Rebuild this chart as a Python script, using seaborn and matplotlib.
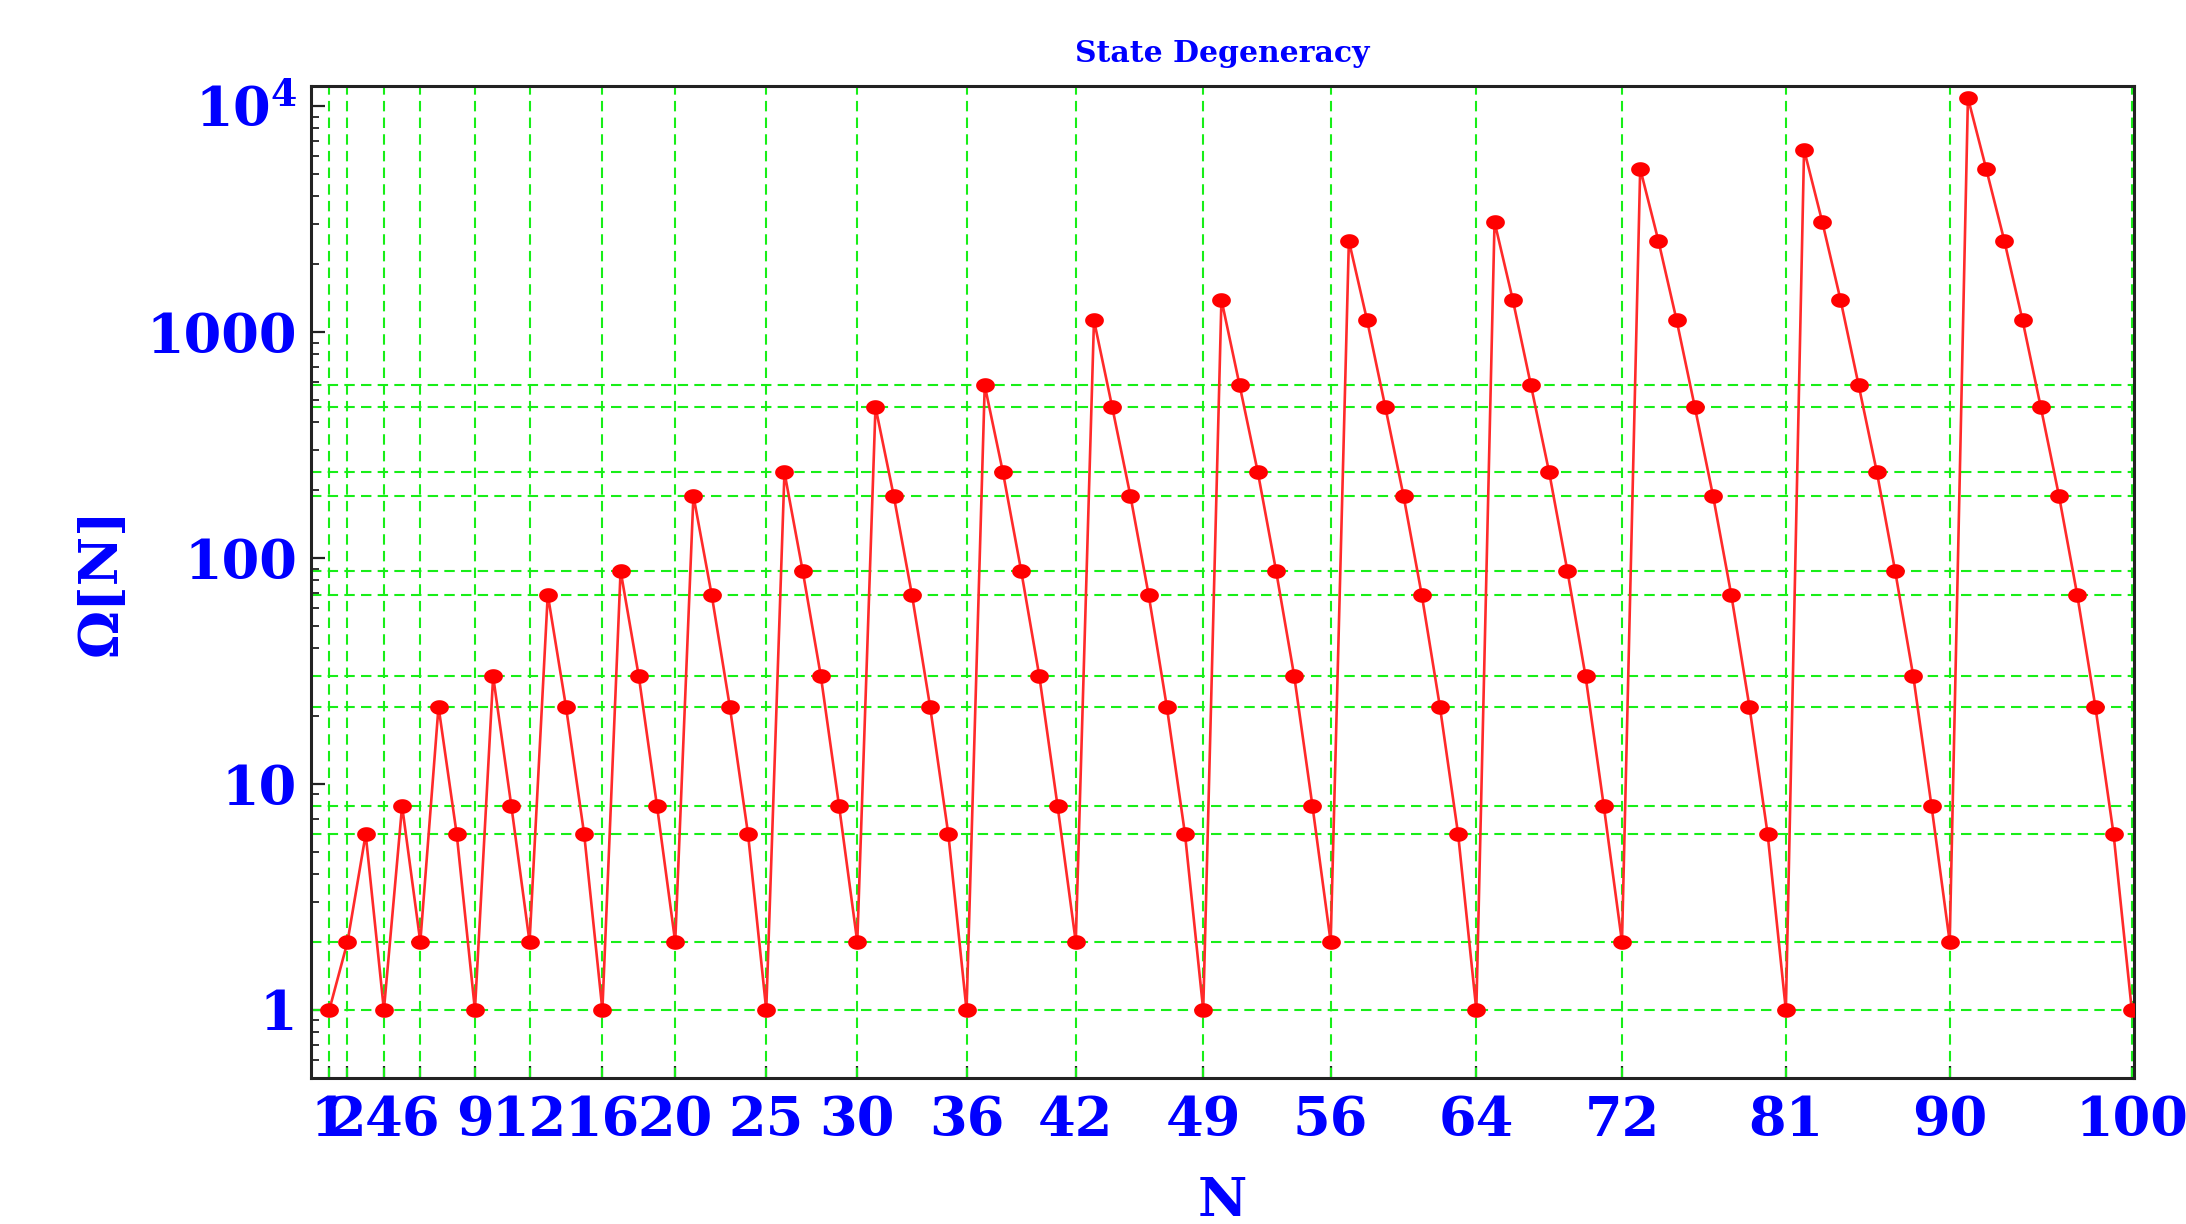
import numpy as np
import pandas as pd
import matplotlib
matplotlib.use("Agg")
import matplotlib.pyplot as plt
import seaborn as sns
from matplotlib.path import Path
from matplotlib.ticker import LogLocator, NullFormatter

# ---- data ----
N = list(range(1, 101))
omega = [
    1, 2, 6, 1, 8, 2, 22, 6, 1, 30,
    8, 2, 69, 22, 6, 1, 88, 30, 8, 2,
    189, 69, 22, 6, 1, 240, 88, 30, 8, 2,
    467, 189, 69, 22, 6, 1, 582, 240, 88, 30,
    8, 2, 1130, 467, 189, 69, 22, 6, 1, 1395,
    582, 240, 88, 30, 8, 2, 2540, 1130, 467, 189,
    69, 22, 6, 1, 3080, 1395, 582, 240, 88, 30,
    8, 2, 5300, 2540, 1130, 467, 189, 69, 22, 6,
    1, 6430, 3080, 1395, 582, 240, 88, 30, 8, 2,
    10900, 5300, 2540, 1130, 467, 189, 69, 22, 6, 1,
]
x_ticks = [1, 2, 4, 6, 9, 12, 16, 20, 25, 30, 36, 42, 49, 56, 64, 72, 81, 90, 100]
x_tick_labels = [str(v) for v in x_ticks]
y_ticks = [1, 10, 100, 1000, 10000]
y_tick_labels = ["1", "10", "100", "1000", r"$\mathbf{10}^{\mathbf{4}}$"]
h_grid = [1, 2, 6, 8, 22, 30, 69, 88, 189, 240, 467, 582]

title = "State Degeneracy"
xlabel = "N"
ylabel = "Ω[N]"

# ---- style ----
sns.set_theme(style="white")
plt.rcParams["font.family"] = ["DejaVu Serif"]
plt.rcParams["font.weight"] = "bold"
plt.rcParams["mathtext.fontset"] = "dejavuserif"

fig = plt.figure(figsize=(21.86, 12.24), dpi=100)
ax = fig.add_axes([0.1423, 0.1193, 0.8339, 0.8104])

green = "#18ee18"
dash = (0, (5.0, 3.0))
for xv in x_ticks:
    ax.axvline(xv, color=green, lw=1.5, ls=dash, zorder=1)
for yv in h_grid:
    ax.axhline(yv, color=green, lw=1.5, ls=dash, zorder=1)

theta = np.linspace(0, 2 * np.pi, 64)
ellipse = Path(np.column_stack([np.cos(theta), 0.78 * np.sin(theta)]), closed=True)

df = pd.DataFrame({"N": N, "Omega": omega})
sns.lineplot(data=df, x="N", y="Omega", ax=ax, color="#ff2a2a", lw=1.9,
             marker=ellipse, markersize=13.5, markerfacecolor="#ff0000",
             markeredgecolor="#ff0000", markeredgewidth=0, zorder=3)

ax.set_yscale("log")
ax.set_xlim(0.0, 100.12)
ax.set_ylim(0.5, 12300)

ax.set_xticks(x_ticks)
ax.set_xticklabels(x_tick_labels)
ax.set_yticks(y_ticks)
ax.set_yticklabels(y_tick_labels)
ax.yaxis.set_minor_locator(LogLocator(base=10, subs=np.arange(2, 10), numticks=30))
ax.yaxis.set_minor_formatter(NullFormatter())
ax.xaxis.set_minor_locator(matplotlib.ticker.NullLocator())

ax.tick_params(axis="x", which="major", direction="in", length=9, width=1.6,
               color="#222222", labelsize=39, labelcolor="#0000ff", pad=12,
               bottom=True, top=False)
ax.tick_params(axis="y", which="major", direction="in", length=10, width=1.6,
               color="#222222", labelsize=39, labelcolor="#0000ff", pad=10,
               left=True, right=False)
ax.tick_params(axis="y", which="minor", direction="in", length=6, width=1.3,
               color="#222222", left=True, right=False)

for sp in ax.spines.values():
    sp.set_color("#222222")
    sp.set_linewidth(2.2)

ax.set_title(title, fontsize=21.5, color="#0000ff", fontweight="bold", pad=17)
ax.set_xlabel(xlabel, fontsize=39, color="#0000ff", fontweight="bold")
ax.set_ylabel(ylabel, fontsize=39, color="#0000ff", fontweight="bold")
ax.xaxis.set_label_coords(0.5, -0.099)
ax.yaxis.set_label_coords(-0.1004, 0.5)

fig.savefig("out.png", dpi=100)
